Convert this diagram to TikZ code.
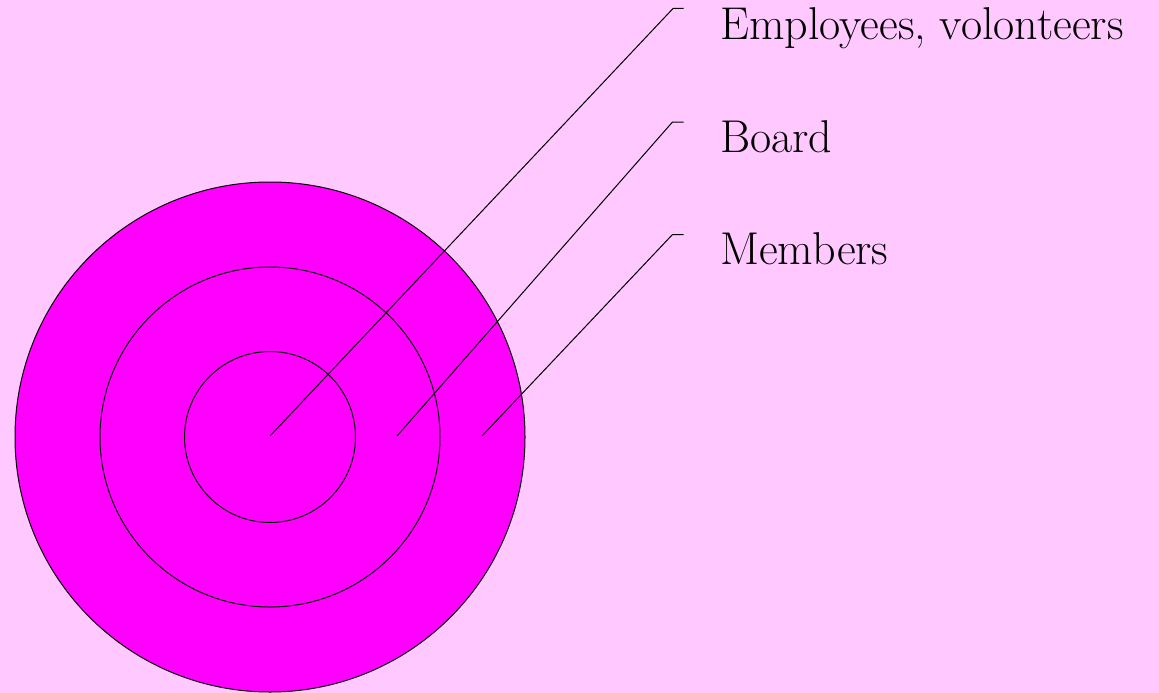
\documentclass[tikz,border=0pt]{standalone}
\definecolor{bgpink}{HTML}{FFC8FF}
\definecolor{ringfill}{HTML}{FF00FF}
\tikzset{
  ring/.style={draw=black, line width=1pt, fill=ringfill},
  leader/.style={draw=black, line width=1pt},
  lbl/.style={anchor=base west, inner sep=0pt, font=\fontsize{46}{52}\selectfont}
}
\begin{document}
\begin{tikzpicture}[x=1pt,y=-1pt]
\fill[bgpink] (0,0) rectangle (1159,693);
\useasboundingbox (0,0) rectangle (1159,693);
\path[ring] (270,437) circle[radius=255];
\path[ring] (270,437) circle[radius=170];
\path[ring] (270,437) circle[radius=85.5];
\coordinate (c1) at (270,436);
\coordinate (c2) at (397,436);
\coordinate (c3) at (482,436);
\coordinate (k1) at (673,8.5);
\coordinate (k2) at (672.5,122);
\coordinate (k3) at (672.5,234.5);
\coordinate (t1) at (683.5,8.5);
\coordinate (t2) at (683.5,122);
\coordinate (t3) at (683.5,234.5);
\node[lbl] (l1) at (720,40) {Employees, volonteers};
\node[lbl] (l2) at (720,152) {Board};
\node[lbl] (l3) at (720,264) {Members};
\draw[leader] (c1) -- (k1) -- (t1);
\draw[leader] (c2) -- (k2) -- (t2);
\draw[leader] (c3) -- (k3) -- (t3);
\end{tikzpicture}
\end{document}
